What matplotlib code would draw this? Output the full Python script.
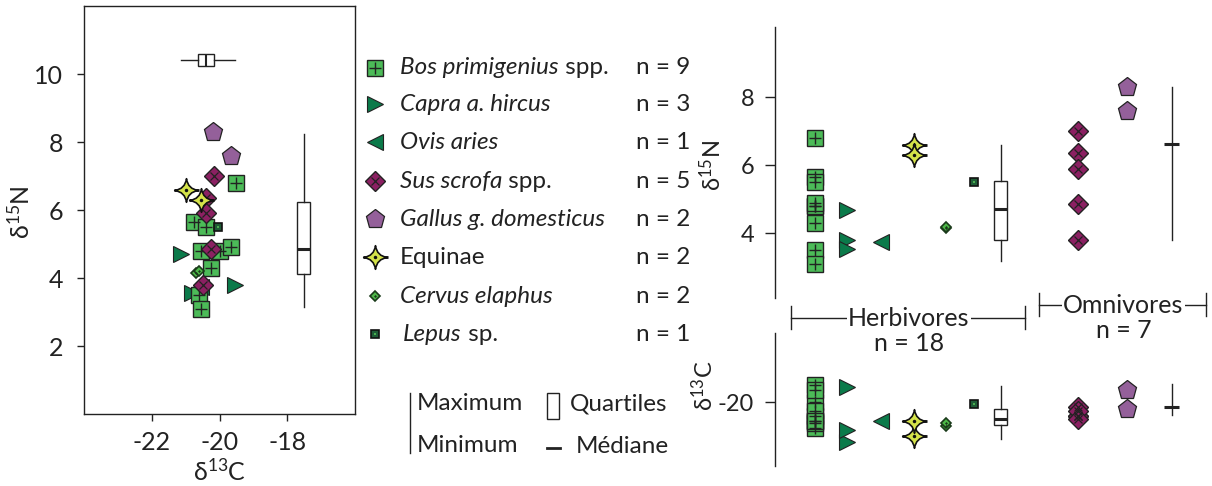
import numpy as np
import matplotlib
matplotlib.use("Agg")
import matplotlib.pyplot as plt
from matplotlib.path import Path

plt.rcParams["font.family"] = ["Lato", "DejaVu Sans"]
plt.rcParams["mathtext.fontset"] = "custom"
plt.rcParams["mathtext.rm"] = "Lato"
plt.rcParams["mathtext.it"] = "Lato:italic"
plt.rcParams["axes.unicode_minus"] = False
plt.rcParams["text.color"] = "#222222"
plt.rcParams["axes.edgecolor"] = "#222222"
plt.rcParams["xtick.color"] = "#222222"
plt.rcParams["ytick.color"] = "#222222"

# --- data: delta13C and delta15N per specimen, by taxon ---
bos_c = [-19.5, -20.75, -20.4, -20.55, -20.0, -19.65, -20.25, -20.6, -20.55]
bos_n = [6.8, 5.65, 5.5, 4.8, 4.8, 4.9, 4.3, 3.5, 3.1]
capra_c = [-21.15, -19.55, -20.8]
capra_n = [4.7, 3.8, 3.55]
ovis_c = [-20.55]
ovis_n = [3.75]
sus_c = [-20.15, -20.4, -20.4, -20.25, -20.5]
sus_n = [7.0, 6.35, 5.9, 4.85, 3.8]
gallus_c = [-20.2, -19.65]
gallus_n = [8.3, 7.6]
equus_c = [-21.0, -20.55]
equus_n = [6.6, 6.3]
cervus_c = [-20.7, -20.6]
cervus_n = [4.15, 4.2]
lepus_c = [-20.05]
lepus_n = [5.5]

# box summaries (whislo, q1, med, q3, whishi)
all_n_box = [3.14, 4.12, 4.84, 6.24, 8.25]
all_c_box = [-21.15, -20.63, -20.39, -20.17, -19.53]
herb_n_box = [3.19, 3.8, 4.71, 5.54, 6.6]
herb_c_box = [-21.09, -20.65, -20.49, -20.2, -19.52]
omni_n_box = [3.8, 6.62, 6.62, 6.62, 8.31]
omni_c_box = [-20.37, -20.15, -20.15, -20.15, -19.47]

taxa = ["bos", "capra", "ovis", "sus", "gallus", "equus", "cervus", "lepus"]
DATA = {
    "bos": (bos_c, bos_n), "capra": (capra_c, capra_n), "ovis": (ovis_c, ovis_n),
    "sus": (sus_c, sus_n), "gallus": (gallus_c, gallus_n), "equus": (equus_c, equus_n),
    "cervus": (cervus_c, cervus_n), "lepus": (lepus_c, lepus_n),
}
LABELS = {
    "bos": ("Bos primigenius", " spp."), "capra": ("Capra a. hircus", ""),
    "ovis": ("Ovis aries", ""), "sus": ("Sus scrofa", " spp."),
    "gallus": ("Gallus g. domesticus", ""), "equus": ("", "Equinae"),
    "cervus": ("Cervus elaphus", ""), "lepus": ("Lepus", " sp."),
}
herbivores = ["bos", "capra", "ovis", "equus", "cervus", "lepus"]
omnivores = ["sus", "gallus"]

# --- marker styles (layers drawn in order) ---
EC = "#222222"
c = 0.12
star = Path([(0, 1), (c, c), (1, 0), (c, -c), (0, -1), (-c, -c), (-1, 0), (-c, c), (0, 1), (0, 1)],
            [Path.MOVETO, Path.CURVE3, Path.CURVE3, Path.CURVE3, Path.CURVE3,
             Path.CURVE3, Path.CURVE3, Path.CURVE3, Path.CURVE3, Path.CLOSEPOLY])
STYLES = {
    "bos": [dict(marker="s", ms=11, mfc="#4cbb58", mec=EC, mew=1.0),
            dict(marker="+", ms=8, color=EC, mew=1.0)],
    "capra": [dict(marker=">", ms=12, mfc="#0b7a4a", mec=EC, mew=0.8)],
    "ovis": [dict(marker="<", ms=12, mfc="#0b7a4a", mec=EC, mew=0.8)],
    "sus": [dict(marker="D", ms=10.5, mfc="#8b2062", mec=EC, mew=1.0),
            dict(marker="x", ms=6, color=EC, mew=0.9)],
    "gallus": [dict(marker="p", ms=14, mfc="#94609a", mec=EC, mew=0.9)],
    "equus": [dict(marker="_", ms=18, color="#111111", mew=2.0),
              dict(marker=star, ms=17, mfc="#d5e34a", mec="#111111", mew=1.2),
              dict(marker="o", ms=2.5, color="#111111", mew=0)],
    "cervus": [dict(marker="D", ms=5, mfc="#4db848", mec="#1a3a1a", mew=1.2),
               dict(marker="D", ms=1.5, color="#1a3a1a", mew=0)],
    "lepus": [dict(marker="s", ms=6, mfc="#1e5c36", mec="#111111", mew=1.2),
              dict(marker="s", ms=1.8, color="#4caf50", mew=0)],
}
ORDER = {"capra": 2, "ovis": 2, "bos": 3, "cervus": 4, "lepus": 4, "sus": 5, "equus": 6, "gallus": 7}


def mark(ax, key, x, y):
    for st in STYLES[key]:
        ax.plot(x, y, linestyle="none", zorder=ORDER[key], **st)


def box(ax, vals, pos, width, orientation="vertical", showbox=True, medlw=2.2):
    st = dict(whislo=vals[0], q1=vals[1], med=vals[2], q3=vals[3], whishi=vals[4], fliers=[])
    ax.bxp([st], positions=[pos], widths=width, orientation=orientation,
           showcaps=False, showbox=showbox, showfliers=False, patch_artist=True,
           manage_ticks=False,
           boxprops=dict(facecolor="white", edgecolor=EC, linewidth=1.0),
           whiskerprops=dict(color=EC, linewidth=1.0),
           medianprops=dict(color=EC, linewidth=medlw), zorder=3)


W, H = 1212, 486
fig = plt.figure(figsize=(W / 100, H / 100), dpi=100)


def frac(x0, y0, x1, y1):
    return [x0 / W, 1 - y1 / H, (x1 - x0) / W, (y1 - y0) / H]


# --- left biplot ---
ax = fig.add_axes(frac(84, 6, 355, 414))
for k in taxa:
    mark(ax, k, DATA[k][0], DATA[k][1])
box(ax, all_n_box, -17.51, 0.385)
box(ax, all_c_box, 10.4, 0.35, orientation="horizontal", medlw=1.5)
ax.set_xlim(-24, -16)
ax.set_ylim(0, 12)
ax.set_xticks([-22, -20, -18])
ax.set_yticks([2, 4, 6, 8, 10])
ax.tick_params(direction="out", length=5, width=1, labelsize=18)
ax.tick_params(axis="y", pad=10)
ax.tick_params(axis="x", pad=7)
for s in ax.spines.values():
    s.set_linewidth(1.0)

# --- right panels: category positions ---
slots = {"bos": 0, "capra": 1, "ovis": 2.1, "equus": 3.15, "cervus": 4.15, "lepus": 5.05,
         "herb": 5.9, "sus": 8.35, "gallus": 9.9, "omni": 11.33}
xl = (-1.27, 12.54)

axt = fig.add_axes(frac(775, 27, 1210, 298))
axb = fig.add_axes(frac(775, 333, 1210, 466))
for a, idx in ((axt, 1), (axb, 0)):
    a.set_facecolor("none")
    for k in taxa:
        v = DATA[k][idx]
        mark(a, k, np.full(len(v), slots[k]), v)
    a.set_xlim(*xl)
    for s in ("top", "right", "bottom"):
        a.spines[s].set_visible(False)
    a.spines["left"].set_linewidth(1.0)
    a.set_xticks([])
    a.tick_params(direction="out", length=7, width=1, labelsize=17, pad=8)
box(axt, herb_n_box, slots["herb"], 0.41)
box(axt, omni_n_box, slots["omni"], 0.48, showbox=False)
box(axb, herb_c_box, slots["herb"], 0.41)
box(axb, omni_c_box, slots["omni"], 0.48, showbox=False)
axt.set_ylim(2.1, 10.07)
axt.set_yticks([4, 6, 8])
axb.set_ylim(-21.87, -17.96)
axb.set_yticks([-20])

# overlay in pixel coordinates for labels, legend and brackets
ov = fig.add_axes([0, 0, 1, 1])
ov.set_xlim(0, W)
ov.set_ylim(H, 0)
ov.axis("off")

# --- axis labels ---
ov.text(20, 212, "δ$^{15}$N", rotation=90, ha="center", va="center", fontsize=18)
ov.text(220, 471, "δ$^{13}$C", ha="center", va="center", fontsize=18)
ov.text(712, 166, "δ$^{15}$N", rotation=90, ha="center", va="center", fontsize=17)
ov.text(704, 386, "δ$^{13}$C", rotation=90, ha="center", va="center", fontsize=17)

# --- taxon legend ---
rend = fig.canvas.get_renderer()
row_y = [68, 104, 142, 181, 219, 257, 296, 334]
for k, y in zip(taxa, row_y):
    mark(ov, k, [375], [y])
    it, rest = LABELS[k]
    x = 400 if k != "lepus" else 403
    if it:
        t = ov.text(x, y, it, style="italic", ha="left", va="center", fontsize=17.5)
        x += t.get_window_extent(rend).width
    if rest:
        ov.text(x, y, rest, ha="left", va="center", fontsize=17.5)
    ov.text(636, y, f"n = {len(DATA[k][0])}", ha="left", va="center", fontsize=17.5)

# --- box legend ---
ov.plot([410, 410], [393, 453], color=EC, lw=1)
ov.text(417, 403, "Maximum", ha="left", va="center", fontsize=17.5)
ov.text(417, 445, "Minimum", ha="left", va="center", fontsize=17.5)
ov.add_patch(plt.Rectangle((547, 393), 12, 26, facecolor="white", edgecolor=EC, lw=1))
ov.text(570, 404, "Quartiles", ha="left", va="center", fontsize=17.5)
ov.plot([547, 560], [448, 448], color=EC, lw=2)
ov.text(576, 446, "Médiane", ha="left", va="center", fontsize=17.5)

# --- group brackets ---
n_herb = sum(len(DATA[k][0]) for k in herbivores)
n_omni = sum(len(DATA[k][0]) for k in omnivores)
for (x0, x1, y, name, n, ny) in ((791, 1025, 318, "Herbivores", n_herb, 343),
                                 (1039, 1206, 305, "Omnivores", n_omni, 330)):
    ov.plot([x0, x1], [y, y], color=EC, lw=1)
    ov.plot([x0, x0], [y - 12, y + 11], color=EC, lw=1)
    ov.plot([x1, x1], [y - 12, y + 11], color=EC, lw=1)
    ov.text((x0 + x1) / 2 + 1, y, name, ha="center", va="center", fontsize=18,
            bbox=dict(facecolor="white", edgecolor="none", pad=1))
    ov.text((x0 + x1) / 2 + 1, ny, f"n = {n}", ha="center", va="center", fontsize=18)

fig.savefig("out.png", dpi=100)
